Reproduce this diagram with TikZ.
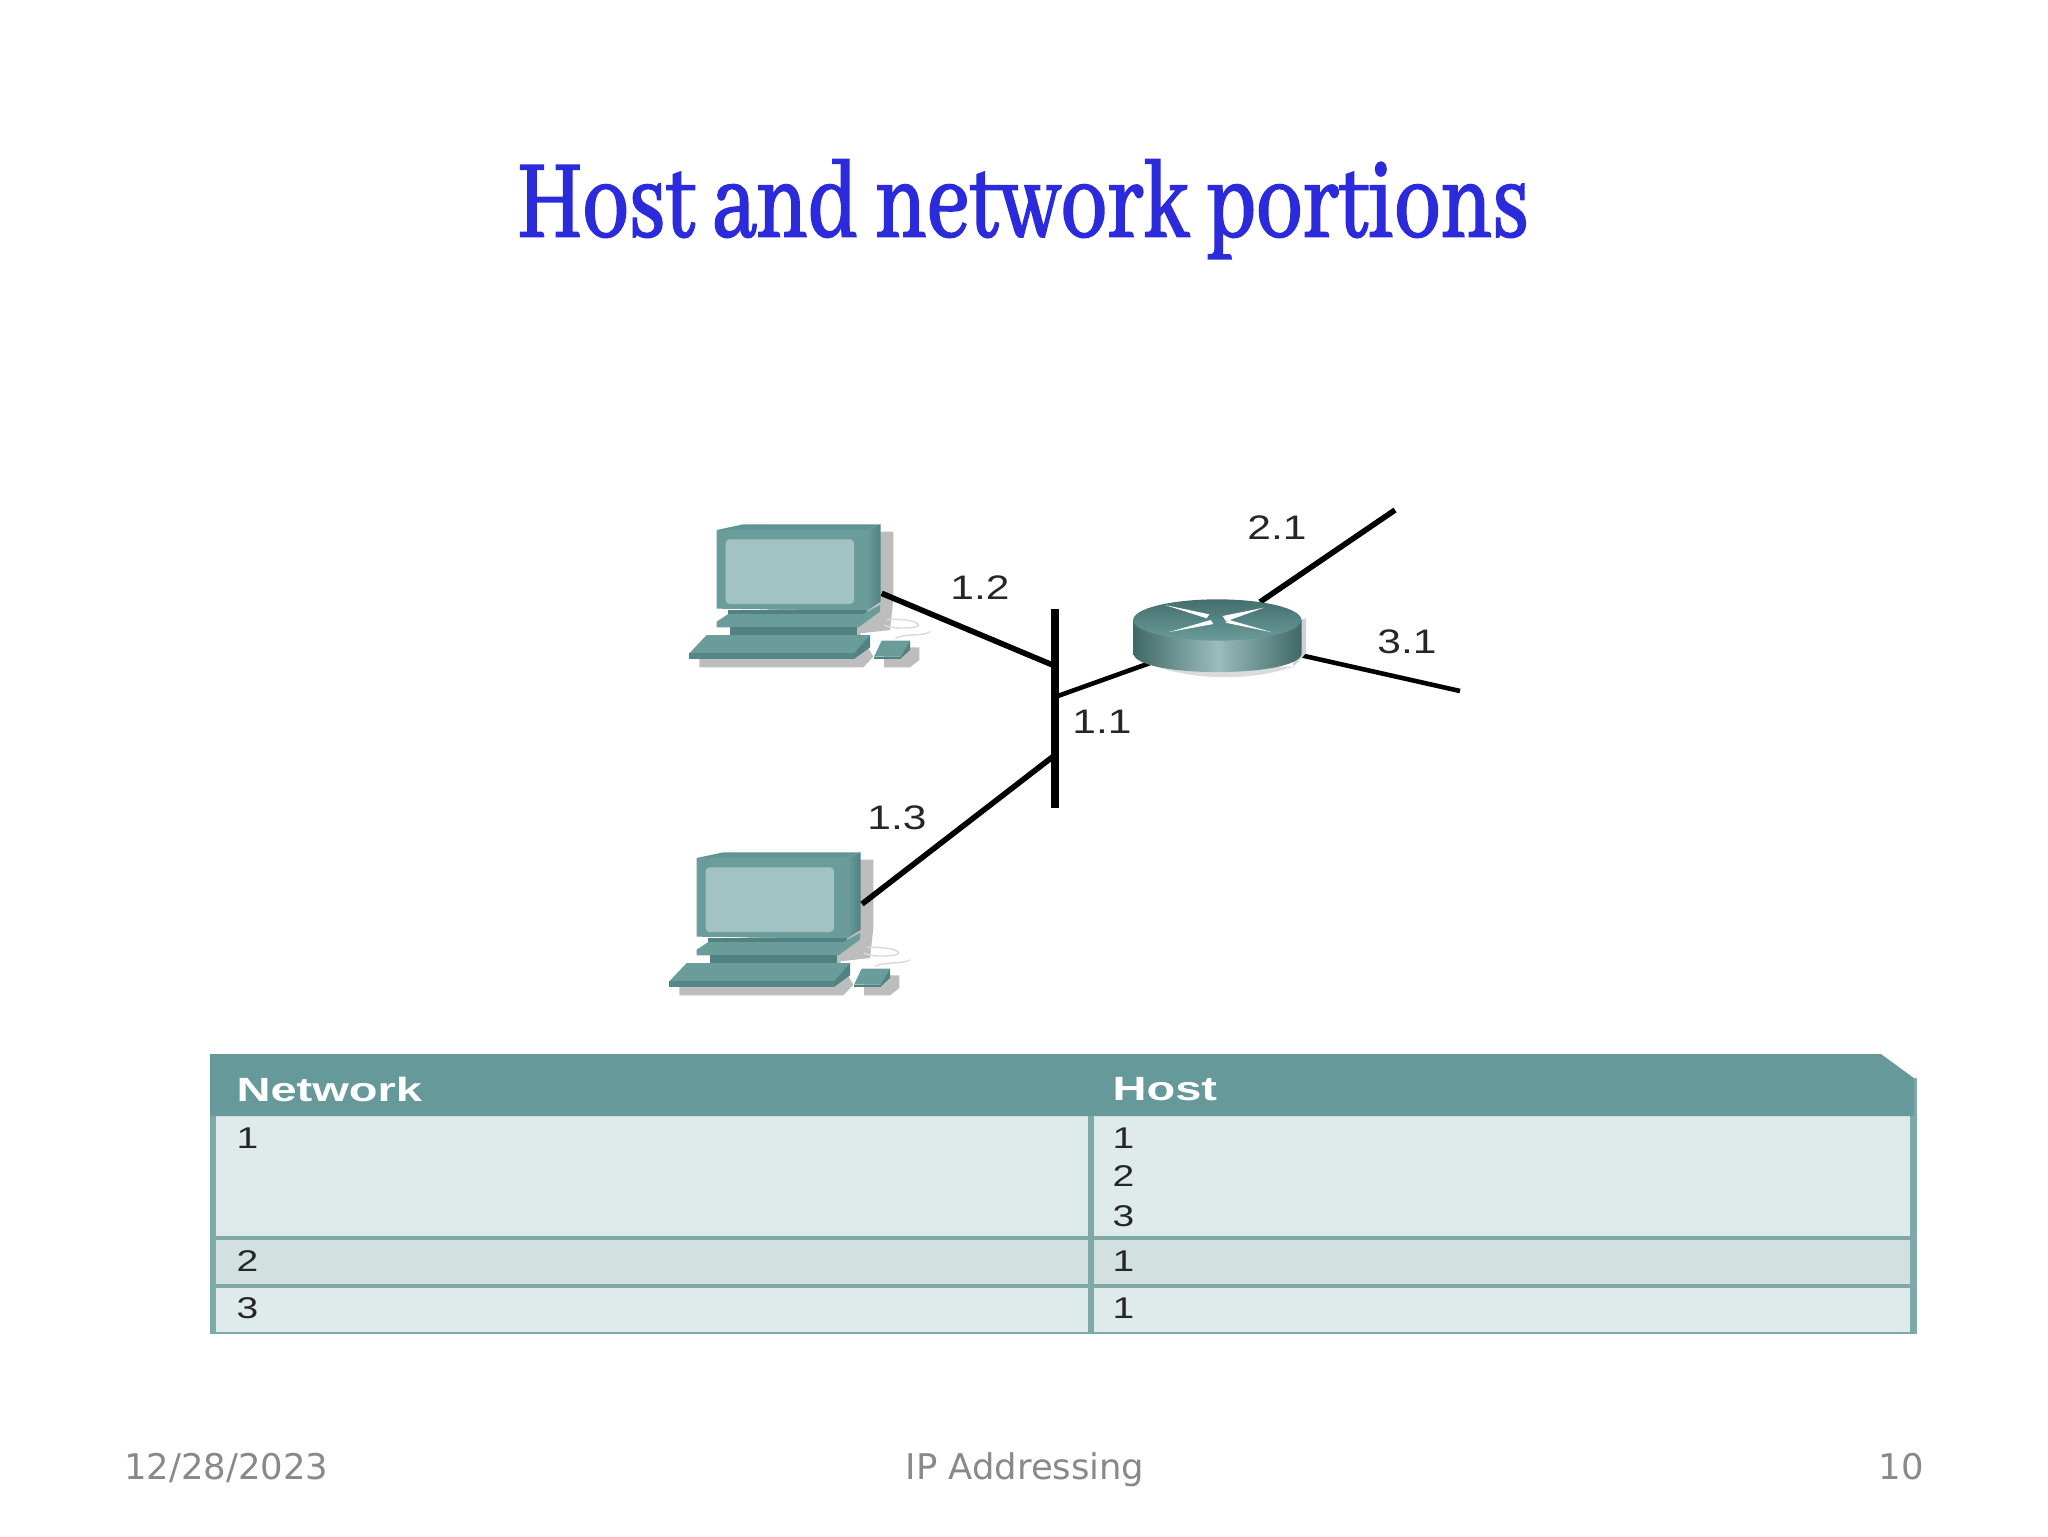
\documentclass[tikz,border=0pt]{standalone}
\usepackage{fontspec}
\setmainfont{Liberation Sans}
\newfontfamily\footfont{DejaVu Sans}
\newfontfamily\titlefont[FakeBold=2.2]{Abhaya Libre}
\definecolor{titleblue}{HTML}{2B2BDB}
\definecolor{foot}{HTML}{898989}
\definecolor{headteal}{HTML}{669999}
\definecolor{rowlight}{HTML}{DFEAEA}
\definecolor{rowmid}{HTML}{D2E1E0}
\definecolor{ruleteal}{HTML}{7FA9A8}
\definecolor{pcfront}{HTML}{6A9C9A}
\definecolor{pctop}{HTML}{5F9593}
\definecolor{pcside}{HTML}{4F8280}
\definecolor{pcscreen}{HTML}{A3C2C2}
\definecolor{pcshadow}{HTML}{BDBDBD}
\tikzset{
  x=0.5pt,y=-0.5pt,
  netlabel/.style={font=\fontsize{17}{17}\selectfont,text=black!85,inner sep=0pt,xscale=1.25,transform shape},
  headtext/.style={font=\fontsize{16.8}{16.8}\selectfont\bfseries,text=white,inner sep=0pt,anchor=west,xscale=1.4,transform shape},
  celltext/.style={font=\fontsize{15}{15}\selectfont,text=black!85,inner sep=0pt,anchor=west,xscale=1.3,transform shape},
  foottext/.style={font=\footfont\fontsize{17.7}{18}\selectfont,text=foot,inner sep=0pt},
  link/.style={draw=black,line width=2.8pt},
  thinlink/.style={draw=black,line width=2.3pt},
  bus/.style={draw=black,line width=3.8pt},
  rule/.style={draw=ruleteal,line width=2.4pt},
  pcicon/.pic={
    % shadows
    \fill[pcshadow] (662,125) -- (700,125) -- (700,330) -- (690,420) -- (600,430) -- (640,500) -- (610,532) -- (118,532) -- (118,500) -- cycle;
    \fill[pcshadow] (672,472) -- (778,472) -- (778,510) -- (750,532) -- (672,532) -- cycle;
    % monitor
    \fill[pctop] (170,120) -- (250,103) -- (662,103) -- (620,120) -- cycle;
    \shade[left color=pcfront,right color=pcside] (620,120) -- (662,103) -- (662,335) -- (620,362) -- cycle;
    \fill[pcfront] (170,120) -- (620,120) -- (620,362) -- (170,356) -- cycle;
    \fill[pcscreen,rounded corners=2pt] (197,148) rectangle (582,342);
    % base
    \fill[pcside] (205,360) -- (620,360) -- (620,385) -- (205,385) -- cycle;
    \fill[pcfront] (170,395) -- (205,372) -- (610,372) -- (660,345) -- (660,365) -- (595,412) -- (170,412) -- cycle;
    \fill[pcside] (210,412) rectangle (590,435);
    % keyboard
    \fill[pcfront] (88,490) -- (140,435) -- (630,435) -- (582,490) -- cycle;
    \fill[pcside!80!pcfront] (88,490) -- (582,490) -- (582,507) -- (88,507) -- cycle;
    \fill[pcside] (582,490) -- (630,435) -- (630,472) -- (582,507) -- cycle;
    % mouse and cable
    \draw[black!15,line width=0.7pt] (680,388) .. controls (760,385) and (800,405) .. (760,412) .. controls (710,418) and (680,410) .. (672,405);
    \draw[black!15,line width=0.7pt] (810,425) .. controls (790,440) and (730,430) .. (706,445);
    \fill[pcfront] (642,500) -- (665,452) -- (750,452) -- (722,500) -- cycle;
    \fill[pcside] (642,500) -- (722,500) -- (722,506) -- (642,506) -- cycle;
    \fill[pcside] (722,500) -- (750,452) -- (750,480) -- (722,506) -- cycle;
    \coordinate (-port) at (665,310);
  }
}
\begin{document}
\begin{tikzpicture}
\useasboundingbox[fill=white] (0,0) rectangle (2048,1536);

\node[font=\titlefont\fontsize{60}{60}\selectfont,text=titleblue,inner sep=0pt,anchor=base,xscale=0.775,transform shape] (title) at (1023,236) {Host and network portions};

% network endpoints
\coordinate (busT) at (1055,609);
\coordinate (busB) at (1055,808);
\coordinate (busA) at (1055,666);
\coordinate (busC) at (1055,697);
\coordinate (busD) at (1055,755);
\coordinate (rtL) at (1150,663);
\coordinate (rtT) at (1260,602);
\coordinate (rtR) at (1300,655);
\coordinate (net2) at (1395,510);
\coordinate (net3) at (1460,691);
\coordinate (pc2port) at (862,904);

\draw[link] (rtT) -- (net2);
\draw[thinlink] (rtR) -- (net3);
\draw[thinlink] (busC) -- (rtL);
\draw[bus] (busT) -- (busB);

\pic[scale=1/3] (pc1) at (660,490) {pcicon};
\pic[scale=1/3] (pc2) at (640,818) {pcicon};
\draw[link] (pc1-port) -- (busA);
\draw[link] (pc2port) -- (busD);

% router
\begin{scope}[shift={(1080,490)},scale=1/3]
  \fill[pcshadow!70] (640,395) -- (678,385) -- (678,490) -- (640,530) -- cycle;
  \fill[pcshadow!55] (230,530) .. controls (350,572) and (520,572) .. (640,530) -- cycle;
  \shade[left color=pcside!80!black,right color=pcside!80!black,middle color=pcscreen!85!pcfront]
    (160,390) -- (160,490) .. controls (165,565) and (660,565) .. (665,490) -- (665,390) -- cycle;
  \shade[top color=pcside!85!black,bottom color=pcfront] (412,390) ellipse [x radius=252.5,y radius=62];
  \fill[white] (255,345) -- (388,373) -- (380,385) -- cycle;
  \fill[white] (428,378) -- (552,353) -- (438,394) -- cycle;
  \fill[white] (268,426) -- (392,390) -- (400,402) -- cycle;
  \fill[white] (436,398) -- (448,390) -- (577,427) -- cycle;
\end{scope}

\node[netlabel] (l21) at (1277,528) {2.1};
\node[netlabel] (l31) at (1407,642) {3.1};
\node[netlabel] (l12) at (980,588) {1.2};
\node[netlabel] (l11) at (1102,722) {1.1};
\node[netlabel] (l13) at (897,818) {1.3};

% table
\fill[ruleteal] (210,1054) rectangle (1917,1334);
\fill[rowlight] (216,1116) rectangle (1910,1237);
\fill[rowmid] (216,1237) rectangle (1910,1285);
\fill[rowlight] (216,1285) rectangle (1910,1332);
\fill[headteal] (210,1054) -- (1880,1054) -- (1914,1078) -- (1914,1116) -- (210,1116) -- cycle;
\fill[white] (1880,1053) -- (1918,1053) -- (1918,1078) -- (1914,1078) -- cycle;
\draw[rule] (216,1238) -- (1914,1238);
\draw[rule] (216,1286) -- (1914,1286);
\draw[rule,line width=2.6pt] (1091,1116) -- (1091,1332);

\node[headtext] (hnet) at (236,1089) {Network};
\node[headtext] (hhost) at (1112,1089) {Host};
\node[celltext] (n1) at (236,1138) {1};
\node[celltext] (n2) at (236,1261) {2};
\node[celltext] (n3) at (236,1308) {3};
\node[celltext] (h1) at (1112,1138) {1};
\node[celltext] (h2) at (1112,1176) {2};
\node[celltext] (h3) at (1112,1216) {3};
\node[celltext] (h4) at (1112,1261) {1};
\node[celltext] (h5) at (1112,1308) {1};

% footer
\node[foottext,anchor=base west] (fdate) at (124,1479) {12/28/2023};
\node[foottext,anchor=base] (fmid) at (1025,1479) {IP Addressing};
\node[foottext,anchor=base east] (fnum) at (1924,1479) {10};
\end{tikzpicture}
\end{document}
